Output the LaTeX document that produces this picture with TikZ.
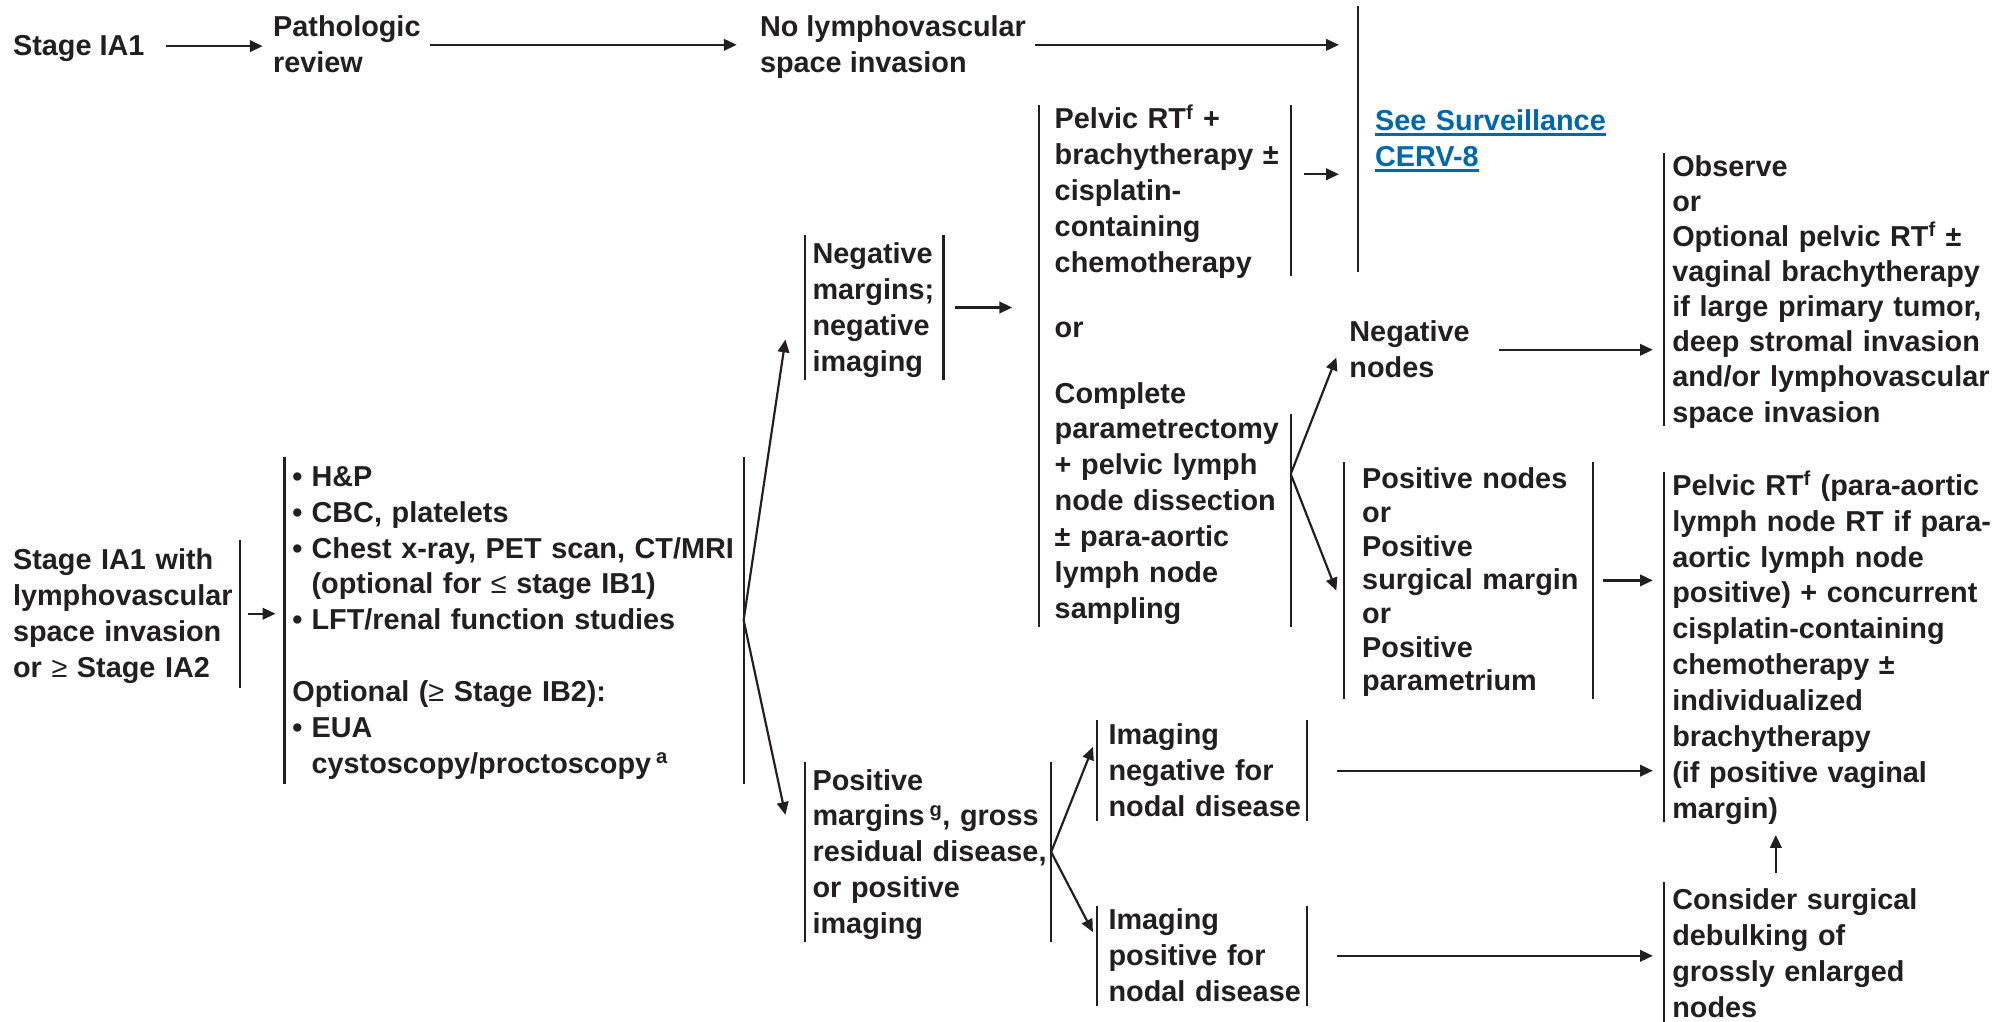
\documentclass[tikz,border=0pt]{standalone}
\usepackage{fontspec}
\setmainfont{Liberation Sans}
\usetikzlibrary{arrows.meta}
\definecolor{ink}{HTML}{231F20}
\definecolor{linkblue}{HTML}{0067A9}
% left-aligned stack of lines, one row per \\ (set 2pt low inside its box)
\newcommand\mlines[1]{\raisebox{-2pt}[\height][\depth]{\begin{tabular}{@{}l@{}}#1\end{tabular}}}
\newcommand\bul{\makebox[15pt][l]{\textbullet}}
\newcommand\ind{\hspace*{15pt}}
\newcommand\gsym{{\mdseries ≥}}
\newcommand\lsym{{\mdseries ≤}}
\newcommand\lnk[1]{\setbox0\hbox{#1}\rlap{\rule[-3.8pt]{\wd0}{2pt}}\box0}
\begin{document}
\begin{tikzpicture}[x=1pt,y=-1pt,
  every node/.style={font=\fontsize{22.5}{28}\selectfont\bfseries, text=ink},
  txt/.style={anchor=west, inner sep=0pt},
  frm/.style={anchor=west, inner ysep=0pt, inner xsep=#1},
  frm/.default=6pt,
  barline/.style={draw=ink, line width=1.7pt},
  lbar/.style={append after command={(\tikzlastnode.north west) edge[barline] (\tikzlastnode.south west)}},
  rbar/.style={append after command={(\tikzlastnode.north east) edge[barline] (\tikzlastnode.south east)}},
  arr/.style={draw=ink, line width=1.7pt, -{Triangle[length=10pt,width=9pt]}}]
\useasboundingbox (0,0) rectangle (1568,797);

% top row
\node[txt] (stageA) at (10,36) {\mlines{Stage IA1}};
\node[txt] (patho) at (213,35) {\mlines{Pathologic\\review}};
\node[txt] (nolvsi) at (593,35) {\mlines{No lymphovascular\\space invasion}};
\node[frm=13pt, lbar, minimum height=207pt, text width=190pt] (surv) at (1060,108.5)
  {\color{linkblue}\mlines{\lnk{See Surveillance}\\\lnk{CERV-8}}};

% primary treatment options
\node[frm=12pt, rbar, text width=172pt, inner ysep=-3.5pt] (pelvic) at (811,149)
  {\mlines{Pelvic RT\textsuperscript{f} +\\brachytherapy ±\\cisplatin-\\containing\\chemotherapy}};
\node[txt] (orA) at (823,256) {\mlines{or}};
\node[frm=12pt, text width=172pt] (compl) at (811,391)
  {\mlines{Complete\\parametrectomy\\+ pelvic lymph\\node dissection\\± para-aortic\\lymph node\\sampling}};
\draw[barline] ([yshift=-30pt]compl.north east) -- (compl.south east);
\draw[barline] (pelvic.north west) -- (compl.south west);

% nodal findings
\node[txt] (negnodes) at (1053,273) {\mlines{Negative\\nodes}};
\node[frm=14pt, lbar, rbar, text width=166pt, font=\fontsize{22.5}{26.3}\selectfont\bfseries] (posnodes) at (1049,453)
  {\mlines{Positive nodes\\or\\Positive\\surgical margin\\or\\Positive\\parametrium}};

% adjuvant treatment
\node[frm, lbar, inner ysep=-3.5pt, text width=260pt, font=\fontsize{22.5}{27.4}\selectfont\bfseries] (observe) at (1299,226)
  {\mlines{Observe\\or\\Optional pelvic RT\textsuperscript{f} ±\\vaginal brachytherapy\\if large primary tumor,\\deep stromal invasion\\and/or lymphovascular\\space invasion}};
\node[frm, lbar, inner ysep=-3.5pt, text width=260pt] (rtbig) at (1299,505)
  {\mlines{Pelvic RT\textsuperscript{f} (para-aortic\\lymph node RT if para-\\aortic lymph node\\positive) + concurrent\\cisplatin-containing\\chemotherapy ±\\individualized\\brachytherapy\\(if positive vaginal\\margin)}};
\node[frm, lbar, text width=260pt] (consider) at (1299,744.5)
  {\mlines{Consider surgical\\debulking of\\grossly enlarged\\nodes}};

% workup
\node[frm, rbar, text width=171pt, minimum height=115pt] (stageB) at (4,479)
  {\mlines{Stage IA1 with\\lymphovascular\\space invasion\\or \gsym\ Stage IA2}};
\node[frm, lbar, rbar, text width=346pt, minimum height=255pt] (workup) at (222,484)
  {\mlines{\bul H\&P\\\bul CBC, platelets\\\bul Chest x-ray, PET scan, CT/MRI\\\ind(optional for \lsym\ stage IB1)\\\bul LFT/renal function studies\\[28pt]Optional (\gsym\ Stage IB2):\\\bul EUA\\\ind cystoscopy/proctoscopy\,\textsuperscript{a}}};

% margins and imaging
\node[frm, lbar, rbar, text width=96pt, minimum height=111pt] (negm) at (628,240)
  {\mlines{Negative\\margins;\\negative\\imaging}};
\node[frm, lbar, rbar, text width=180pt] (posm) at (628,665)
  {\mlines{Positive\\margins\,\textsuperscript{g}, gross\\residual disease,\\or positive\\imaging}};
\node[frm=9pt, lbar, rbar, text width=146pt, inner ysep=-3pt] (imgneg) at (856,601.5)
  {\mlines{Imaging\\negative for\\nodal disease}};
\node[frm=9pt, lbar, rbar, text width=146pt, inner ysep=-3pt] (imgpos) at (856,746)
  {\mlines{Imaging\\positive for\\nodal disease}};

% connectors
\draw[arr, shorten <=17pt, shorten >=8pt] (stageA.east) -- (stageA.east -| patho.west);
\draw[arr, shorten <=7pt, shorten >=18pt] (patho.east) -- (patho.east -| nolvsi.west);
\draw[arr, shorten <=7pt, shorten >=15pt] (nolvsi.east) -- (nolvsi.east -| surv.west);
\coordinate (pe) at ([yshift=13pt]pelvic.east);
\draw[arr, shorten <=10pt, shorten >=15pt] (pe) -- (pe -| surv.west);
\draw[arr, shorten <=6pt, shorten >=7pt] (stageB.east) -- (stageB.east -| workup.west);
\draw[arr] (workup.east) -- ([xshift=-15pt,yshift=-25pt]negm.west);
\draw[arr] (workup.east) -- ([xshift=-15pt,yshift=29pt]posm.west);
\draw[arr, shorten <=9pt, shorten >=21pt] (negm.east) -- (negm.east -| pelvic.west);
\coordinate (cs) at ([yshift=21pt]compl.east);
\draw[arr] (cs) -- ([xshift=-10pt,yshift=-6pt]negnodes.west);
\draw[arr] (cs) -- ([xshift=-6pt,yshift=-8pt]posnodes.west);
\draw[arr, shorten <=23pt, shorten >=9pt] (negnodes.east) -- (negnodes.east -| observe.west);
\draw[arr, shorten <=8pt, shorten >=9pt] (posnodes.east) -- (posnodes.east -| rtbig.west);
\draw[arr] (posm.east) -- ([xshift=-3pt,yshift=18.5pt]imgneg.west);
\draw[arr] (posm.east) -- ([xshift=-3pt,yshift=18.5pt]imgpos.west);
\draw[arr, shorten <=23pt, shorten >=9pt] (imgneg.east) -- (imgneg.east -| rtbig.west);
\draw[arr, shorten <=23pt, shorten >=9pt] (imgpos.east) -- (imgpos.east -| consider.west);
\coordinate (cu) at ([xshift=87pt]consider.north west);
\draw[arr, shorten <=7pt, shorten >=10pt] (cu) -- (cu |- rtbig.south);
\end{tikzpicture}
\end{document}
